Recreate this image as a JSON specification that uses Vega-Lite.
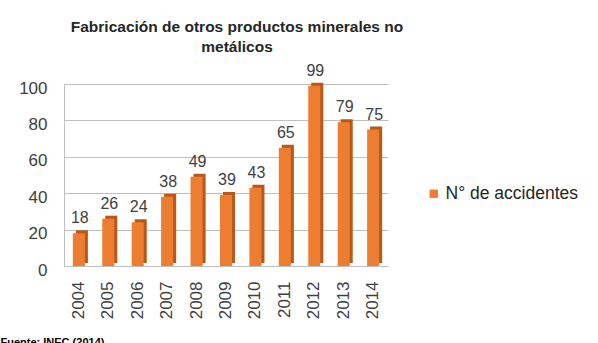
{
  "$schema": "https://vega.github.io/schema/vega-lite/v6.json",
  "autosize": "none",
  "width": 324,
  "height": 182,
  "padding": {"left": 64, "top": 84, "right": 210, "bottom": 77},
  "background": "white",
  "config": {
    "font": "Liberation Sans",
    "view": {"stroke": null}
  },
  "title": {
    "text": ["Fabricación de otros productos minerales no", "metálicos"],
    "fontSize": 15.5,
    "fontWeight": "bold",
    "color": "#262626",
    "lineHeight": 20,
    "anchor": "middle",
    "frame": "group",
    "dx": 11,
    "offset": 7
  },
  "data": {
    "values": [
      {"anio": "2004", "accidentes": 18},
      {"anio": "2005", "accidentes": 26},
      {"anio": "2006", "accidentes": 24},
      {"anio": "2007", "accidentes": 38},
      {"anio": "2008", "accidentes": 49},
      {"anio": "2009", "accidentes": 39},
      {"anio": "2010", "accidentes": 43},
      {"anio": "2011", "accidentes": 65},
      {"anio": "2012", "accidentes": 99},
      {"anio": "2013", "accidentes": 79},
      {"anio": "2014", "accidentes": 75}
    ]
  },
  "encoding": {
    "x": {
      "field": "anio",
      "type": "ordinal",
      "scale": {"paddingInner": 0.59, "paddingOuter": 0.3},
      "axis": {
        "title": "Fuente: INEC (2014)",
        "titleFontSize": 11,
        "titleFontWeight": "bold",
        "titleColor": "#000000",
        "titleAnchor": "start",
        "titleAlign": "left",
        "titleBaseline": "top",
        "titleX": -64,
        "titleY": 70,
        "labelAngle": -90,
        "labelFontSize": 17,
        "labelColor": "#404040",
        "labelPadding": 15,
        "ticks": false,
        "domainColor": "#bfbfbf"
      }
    },
    "y": {
      "field": "accidentes",
      "type": "quantitative",
      "scale": {"domain": [0, 100]},
      "axis": {
        "title": null,
        "values": [0, 20, 40, 60, 80, 100],
        "labelFontSize": 17,
        "labelColor": "#404040",
        "labelPadding": 17,
        "labelOffset": 4,
        "ticks": false,
        "domainColor": "#bfbfbf",
        "gridColor": "#bfbfbf",
        "gridWidth": 1
      }
    }
  },
  "layer": [
    {
      "mark": {"type": "bar", "color": "#B8581A", "xOffset": 3, "yOffset": -3}
    },
    {
      "mark": {"type": "bar"},
      "encoding": {
        "color": {
          "datum": "N° de accidentes",
          "scale": {"range": ["#ED7D31"]},
          "legend": {
            "title": null,
            "orient": "none",
            "legendX": 361,
            "legendY": 101,
            "symbolType": "square",
            "symbolSize": 70,
            "symbolStrokeWidth": 0,
            "labelFontSize": 17.5,
            "labelColor": "#262626",
            "labelOffset": 3
          }
        }
      }
    },
    {
      "mark": {"type": "text", "baseline": "bottom", "dy": -7, "dx": 1, "fontSize": 16, "color": "#404040"},
      "encoding": {"text": {"field": "accidentes", "type": "quantitative"}}
    }
  ]
}
